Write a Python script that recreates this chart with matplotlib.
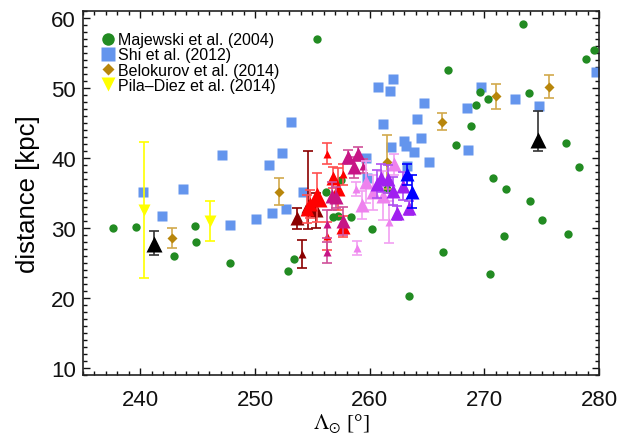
import matplotlib
matplotlib.use("Agg")
import matplotlib.pyplot as plt
from matplotlib.lines import Line2D
from matplotlib.ticker import MultipleLocator
import numpy as np

plt.rcParams['font.family'] = ['Liberation Sans', 'DejaVu Sans']
plt.rcParams['mathtext.fontset'] = 'stix'

# ---- Majewski et al. (2004) ----
maj_lam = [237.6, 239.6, 242.9, 244.8, 244.9, 247.8, 255.4, 256.2, 257.5, 256.8, 257.2,
           258.4, 260.2, 261.5, 253.4, 252.9, 263.4, 266.4, 266.8, 267.5, 268.8, 269.3,
           269.6, 270.3, 270.5, 270.8, 271.7, 271.9, 273.4, 273.9, 274.0, 275.0, 277.1,
           277.3, 278.3, 278.9, 279.6]
maj_dist = [30.0, 30.1, 26.0, 30.3, 28.0, 25.0, 57.0, 35.2, 36.8, 31.5, 31.7,
            31.6, 29.8, 35.6, 25.5, 23.8, 20.3, 26.6, 52.5, 41.9, 44.5, 47.5,
            49.4, 48.4, 23.4, 37.1, 28.8, 35.6, 59.2, 49.3, 33.8, 31.1, 42.1,
            29.1, 38.7, 54.1, 55.4]

# ---- Shi et al. (2012) ----
shi_lam = [240.2, 241.9, 243.7, 247.1, 247.8, 250.1, 251.2, 251.5, 252.4, 252.7, 253.1,
           254.2, 259.7, 259.8, 260.7, 261.2, 261.8, 262.0, 261.9, 263.0, 263.2, 263.3,
           263.9, 264.1, 264.5, 264.7, 265.2, 268.5, 268.6, 269.7, 272.7, 274.8, 279.7]
shi_dist = [35.1, 31.7, 35.5, 40.4, 30.4, 31.3, 39.0, 32.2, 40.7, 32.7, 45.1,
            35.1, 40.0, 37.1, 50.2, 44.9, 49.6, 51.3, 41.5, 42.4, 41.7, 38.9,
            40.8, 45.5, 42.9, 47.9, 39.4, 47.1, 41.2, 50.2, 48.4, 47.4, 52.3]

# ---- Belokurov et al. (2014) ----
bel_lam = [242.8, 252.1, 261.5, 266.3, 271.0, 275.6]
bel_dist = [28.6, 35.2, 39.4, 45.2, 48.8, 50.2]
bel_err = [1.4, 1.9, 3.9, 1.2, 1.8, 1.7]

# ---- Pila-Diez et al. (2014) ----
pila_lam = [240.3, 246.1]
pila_dist = [32.6, 31.0]
pila_err = [9.7, 2.8]

# ---- Black triangles ----
blk_lam = [241.2, 274.7]
blk_dist = [27.7, 42.5]
blk_err_lo = [1.6, 1.5]
blk_err_hi = [1.9, 4.2]

# ---- coloured triangle groups: lam, dist, err_lo, err_hi, size class ----
darkred_lam = [253.7, 254.6, 255.3, 254.1]
darkred_dist = [31.4, 33.2, 32.5, 26.3]
darkred_lo = [1.5, 3.3, 2.5, 2.0]
darkred_hi = [1.5, 7.8, 2.5, 2.0]
darkred_big = [1, 1, 1, 0]

red_lam = [255.4, 254.8, 254.5, 256.3, 256.8, 257.2, 257.7, 257.7, 256.3]
red_dist = [34.4, 33.4, 32.7, 40.6, 37.2, 35.6, 37.7, 30.2, 28.9]
red_lo = [3.5, 2.0, 2.0, 1.5, 1.5, 3.0, 1.5, 1.5, 2.0]
red_hi = [3.5, 2.0, 2.0, 1.5, 1.5, 3.0, 1.5, 1.5, 2.0]
red_big = [2, 1, 1, 0, 1, 1, 0, 1, 0]

mvr_lam = [258.1, 259.0, 258.6, 259.4, 256.7, 257.1, 257.7, 256.3, 256.3]
mvr_dist = [40.1, 40.6, 38.7, 38.9, 34.6, 34.4, 31.0, 30.6, 26.5]
mvr_lo = [1.0, 1.0, 1.5, 1.0, 2.0, 1.5, 2.0, 2.0, 1.5]
mvr_hi = [1.0, 1.0, 1.5, 1.0, 2.0, 1.5, 2.0, 2.0, 1.5]
mvr_big = [1, 1, 1, 0, 1, 1, 1, 0, 0]

vio_lam = [258.8, 259.7, 259.3, 260.3, 261.2, 262.1, 261.7, 258.9]
vio_dist = [35.5, 36.5, 33.3, 35.1, 34.6, 39.1, 30.9, 27.2]
vio_lo = [1.0, 3.0, 2.0, 2.5, 3.5, 1.5, 3.0, 1.0]
vio_hi = [1.0, 3.0, 2.0, 2.5, 3.5, 1.5, 3.0, 1.0]
vio_big = [0, 1, 1, 1, 1, 1, 0, 0]

pur_lam = [261.0, 260.6, 261.6, 262.0, 262.9, 262.4, 263.4]
pur_dist = [37.2, 36.3, 37.0, 35.3, 36.0, 32.2, 32.9]
pur_lo = [2.0, 2.0, 2.0, 2.0, 2.0, 1.0, 1.0]
pur_hi = [2.0, 2.0, 2.0, 2.0, 2.0, 1.0, 1.0]
pur_big = [1, 1, 1, 1, 1, 1, 1]

blu_lam = [263.3, 263.7]
blu_dist = [37.7, 35.2]
blu_lo = [1.5, 2.3]
blu_hi = [1.5, 2.3]
blu_big = [1, 1]

fig = plt.figure(figsize=(6.22, 4.39), dpi=100)
ax = fig.add_axes([0.1334, 0.1435, 0.8296, 0.8292])

ax.plot(maj_lam, maj_dist, 'o', color='#228B22', ms=6, mec='none', zorder=3)
ax.plot(shi_lam, shi_dist, 's', color='#6495ED', ms=6.5, mec='none', zorder=2)
ax.errorbar(bel_lam, bel_dist, yerr=bel_err, fmt='D', color='#B8860B', ms=5.6, mec='none',
            ecolor='#D2A94C', elinewidth=1.2, capsize=3.6, capthick=1.2, zorder=4)
ax.errorbar(pila_lam, pila_dist, yerr=pila_err, fmt='v', color='#FFFF00', ms=9, mec='none',
            ecolor='#FFFF00', elinewidth=1.2, capsize=3.6, capthick=1.2, zorder=4)
ax.errorbar(blk_lam, blk_dist, yerr=[blk_err_lo, blk_err_hi], fmt='^', color='black', ms=11.5,
            mec='none', ecolor='#333333', elinewidth=1.2, capsize=3.6, capthick=1.2, zorder=5)

groups = [
    (darkred_lam, darkred_dist, darkred_lo, darkred_hi, darkred_big, '#8B0000', '#8B0000'),
    (red_lam, red_dist, red_lo, red_hi, red_big, '#FF0000', '#FF5050'),
    (mvr_lam, mvr_dist, mvr_lo, mvr_hi, mvr_big, '#C71585', '#D0509A'),
    (vio_lam, vio_dist, vio_lo, vio_hi, vio_big, '#EE82EE', '#F2A0F2'),
    (pur_lam, pur_dist, pur_lo, pur_hi, pur_big, '#A020F0', '#B050F0'),
    (blu_lam, blu_dist, blu_lo, blu_hi, blu_big, '#0000FF', '#0000FF'),
]
sizes = {0: 6.0, 1: 10.5, 2: 15.0}
for k, (lam, dist, lo, hi, big, c, ec) in enumerate(groups):
    for i in range(len(lam)):
        ax.errorbar([lam[i]], [dist[i]], yerr=[[lo[i]], [hi[i]]], fmt='^', color=c,
                    ms=sizes[big[i]], mec='none', ecolor=ec, elinewidth=1.2,
                    capsize=3.6, capthick=1.2, zorder=6 + k)

ax.set_xlim(235, 280)
ax.set_ylim(9, 61)
ax.xaxis.set_major_locator(MultipleLocator(10))
ax.xaxis.set_minor_locator(MultipleLocator(1))
ax.yaxis.set_major_locator(MultipleLocator(10))
ax.yaxis.set_minor_locator(MultipleLocator(1))
ax.tick_params(which='both', direction='in', top=True, right=True, labelsize=16,
               colors='#111111', width=1.0)
ax.tick_params(axis='x', which='both', pad=10)
ax.tick_params(axis='y', which='both', pad=5)
ax.tick_params(which='major', length=5.2)
ax.tick_params(which='minor', length=2.8)
for s in ax.spines.values():
    s.set_linewidth(1.2)
    s.set_color('#222222')

ax.set_ylabel('distance [kpc]', fontsize=18.5, labelpad=8)
ax.set_xlabel(r'$\Lambda_{\odot}$ [°]', fontsize=15.5, family=['Liberation Serif', 'DejaVu Serif'],
              labelpad=1)

handles = [
    Line2D([], [], marker='o', ls='none', color='#228B22', mec='none', ms=9),
    Line2D([], [], marker='s', ls='none', color='#6495ED', mec='none', ms=9.5),
    Line2D([], [], marker='D', ls='none', color='#B8860B', mec='none', ms=6.2),
    Line2D([], [], marker='v', ls='none', color='#FFFF00', mec='none', ms=9.5),
]
labels = ['Majewski et al. (2004)', 'Shi et al. (2012)', 'Belokurov et al. (2014)',
          'Pila\u2013Diez et al. (2014)']
ax.legend(handles, labels, loc='upper left', bbox_to_anchor=(0.0366, 0.942), frameon=False,
          fontsize=11.5, handlelength=0.8, handletextpad=0.22, labelspacing=0.02,
          borderaxespad=0.0, borderpad=0.0)

fig.savefig('out.png', dpi=100)
